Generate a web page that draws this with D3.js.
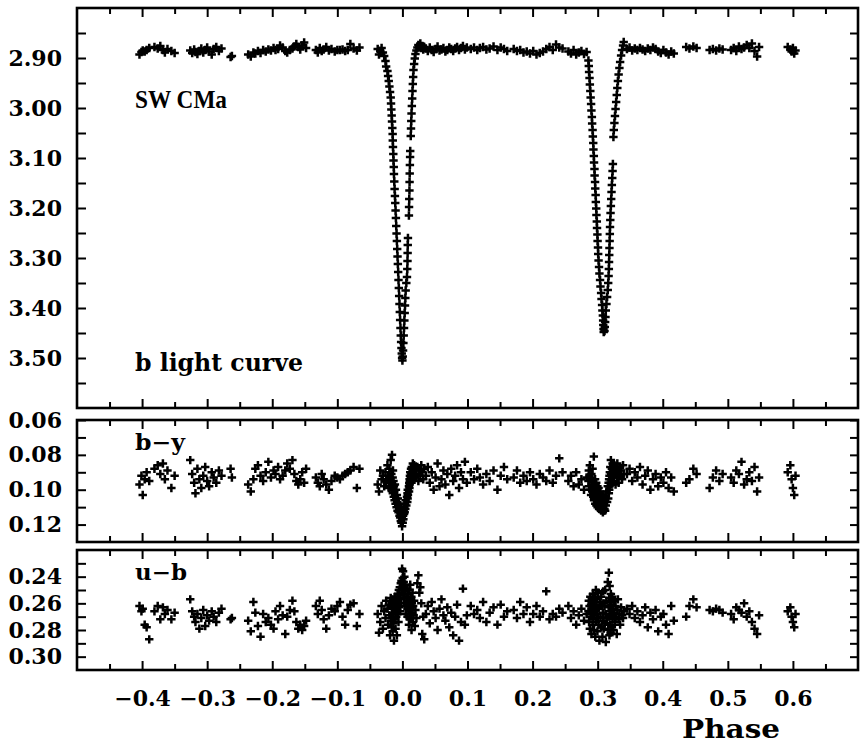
<!DOCTYPE html>
<html><head><meta charset="utf-8">
<script src="https://cdn.jsdelivr.net/npm/d3@7"></script>
<style>body{margin:0;background:#fff}svg{display:block}</style>
</head><body><svg id="c" width="863" height="743"></svg>
<script>
// ---- data ----
const phase = [
-0.404,-0.401,-0.399,-0.396,-0.393,-0.389,-0.381,-0.376,-0.372,-0.368,-0.365,-0.361,-0.355,-0.350,
-0.326,-0.323,-0.320,-0.318,-0.315,-0.312,-0.309,-0.306,-0.303,-0.300,-0.297,-0.293,-0.290,-0.286,-0.282,-0.278,
-0.264,-0.262,
-0.237,-0.233,-0.229,-0.226,-0.222,-0.218,-0.214,-0.210,-0.206,-0.202,-0.198,-0.195,-0.191,-0.188,-0.184,-0.180,-0.177,-0.173,-0.169,-0.166,-0.163,-0.160,-0.157,-0.154,-0.151,-0.148,
-0.133,-0.130,-0.127,-0.124,-0.121,-0.117,-0.113,-0.109,-0.104,-0.100,-0.096,-0.092,-0.088,-0.084,-0.080,-0.075,-0.070,-0.066,
-0.038,-0.036,-0.034,-0.032,-0.030,-0.028,-0.026,-0.025,-0.023,-0.022,-0.021,-0.020,-0.019,-0.018,-0.0175,-0.017,-0.0165,-0.016,-0.0155,-0.015,-0.0148,-0.0145,-0.014,-0.0137,-0.0133,-0.013,-0.0125,-0.012,-0.0115,-0.011,-0.0105,-0.010,-0.0095,-0.009,-0.0085,-0.008,-0.0075,-0.007,-0.0065,-0.006,-0.0055,-0.005,-0.0045,-0.004,-0.0035,-0.003,-0.0025,-0.002,-0.0015,-0.001,-0.0005,0.000,
0.0005,0.001,0.0015,0.002,0.0025,0.003,0.0035,0.004,0.0045,0.005,0.006,0.007,0.0075,0.0078,0.008,0.0082,0.0085,0.0100,0.0102,0.0105,0.0108,0.0110,0.0112,0.0115,0.0118,0.0120,0.0128,0.0132,0.0136,0.0140,0.0145,0.0150,0.0155,0.0160,0.0165,0.0170,0.0180,0.0190,0.0200,0.0215,0.0230,0.0245,0.0260,0.0275,0.0290,0.0305,0.0320,0.0335,
0.036,0.039,0.042,0.045,0.048,0.051,0.054,0.057,0.060,0.063,0.066,0.069,0.072,0.075,0.078,0.081,0.084,0.087,0.090,0.093,0.096,0.099,
0.105,0.110,0.115,0.119,0.124,0.129,0.134,0.140,0.146,0.151,0.156,0.161,
0.171,0.176,0.181,0.186,0.191,0.196,0.201,0.206,0.211,0.216,0.221,0.226,0.231,0.236,0.241,0.246,
0.255,0.259,0.263,0.267,0.271,0.275,0.279,0.283,
0.2858,0.2864,0.2868,0.2875,0.2880,0.2887,0.2892,0.2899,0.2904,0.2911,0.2915,0.2922,0.2926,0.2932,0.2935,0.2941,0.2944,0.2951,0.2953,0.2960,0.2963,0.2969,0.2972,0.2978,0.2981,0.2987,0.2990,0.2996,0.2999,0.3005,0.3008,0.3014,0.3021,0.3027,0.3037,0.3043,0.3053,0.3059,0.3068,0.3073,0.3080,0.3084,0.3086,0.3090,0.3093,
0.3105,0.3110,0.3115,0.3120,0.3125,0.3135,0.3145,0.3155,0.3162,0.3168,0.3172,0.3175,0.3178,0.3181,0.3184,0.3187,0.3190,0.3194,0.3198,0.3203,0.3208,0.3213,0.3218,0.3224,0.3229,0.3234,0.3242,0.3248,0.3257,0.3266,0.3275,0.3284,0.3293,0.3302,0.3311,0.3322,0.3334,0.3345,0.3360,0.3375,0.3390,0.3400,
0.345,0.349,0.353,0.357,0.361,0.365,0.369,0.373,0.377,0.381,0.385,0.389,0.393,0.397,0.401,0.405,0.409,0.413,0.417,
0.436,0.441,0.447,0.452,
0.472,0.477,0.482,0.487,0.492,
0.505,0.509,0.513,0.517,0.521,0.525,0.529,0.533,0.537,0.541,0.545,0.548,
0.592,0.596,0.598,0.600,0.602,0.604
];
const bMag = [
2.893,2.888,2.885,2.887,2.884,2.880,2.878,2.881,2.876,2.884,2.889,2.882,2.886,2.890,
2.885,2.890,2.883,2.888,2.892,2.886,2.881,2.889,2.884,2.879,2.887,2.893,2.882,2.878,2.886,2.881,
2.898,2.896,
2.893,2.897,2.889,2.891,2.886,2.890,2.884,2.887,2.883,2.885,2.880,2.884,2.882,2.875,2.879,2.886,2.889,2.884,2.881,2.877,2.872,2.878,2.883,2.875,2.869,2.880,
2.884,2.889,2.880,2.886,2.883,2.878,2.885,2.882,2.887,2.884,2.884,2.883,2.886,2.884,2.872,2.881,2.885,2.879,
2.882,2.893,2.886,2.880,2.889,2.896,2.906,2.917,2.926,2.936,2.946,2.957,2.968,2.979,2.991,3.003,3.015,3.027,3.040,3.052,3.065,3.078,3.092,3.105,3.118,3.132,3.147,3.162,3.176,3.190,3.205,3.220,3.236,3.251,3.266,3.282,3.297,3.312,3.328,3.344,3.360,3.376,3.392,3.408,3.424,3.440,3.455,3.468,3.480,3.491,3.500,3.505,
3.497,3.485,3.470,3.455,3.440,3.425,3.410,3.395,3.380,3.365,3.350,3.338,3.322,3.306,3.290,3.274,3.260,3.215,3.198,3.182,3.165,3.148,3.131,3.114,3.098,3.086,3.056,3.041,3.026,3.011,2.996,2.981,2.966,2.952,2.938,2.924,2.912,2.901,2.892,2.885,2.879,2.874,2.877,2.871,2.880,2.876,2.883,2.878,
2.881,2.886,2.879,2.884,2.888,2.882,2.877,2.885,2.883,2.880,2.887,2.884,2.879,2.882,2.886,2.881,2.878,2.884,2.880,2.876,2.883,2.879,
2.882,2.879,2.884,2.880,2.878,2.883,2.881,2.877,2.884,2.879,2.882,2.886,
2.882,2.886,2.884,2.889,2.887,2.891,2.886,2.893,2.890,2.887,2.882,2.878,2.884,2.873,2.879,2.881,
2.887,2.891,2.884,2.893,2.889,2.886,2.892,2.888,
2.905,2.916,2.928,2.940,2.953,2.966,2.979,2.992,3.005,3.018,3.031,3.044,3.057,3.070,3.083,3.096,3.109,3.122,3.135,3.148,3.161,3.174,3.188,3.201,3.214,3.227,3.240,3.253,3.266,3.279,3.292,3.305,3.318,3.331,3.344,3.357,3.370,3.382,3.394,3.405,3.415,3.425,3.434,3.442,3.448,
3.446,3.438,3.428,3.418,3.405,3.392,3.378,3.364,3.350,3.336,3.322,3.308,3.294,3.280,3.266,3.252,3.238,3.224,3.210,3.196,3.182,3.168,3.154,3.140,3.126,3.112,3.058,3.044,3.030,3.016,3.002,2.988,2.974,2.960,2.946,2.933,2.920,2.908,2.895,2.884,2.875,2.868,
2.882,2.879,2.885,2.881,2.884,2.880,2.883,2.886,2.881,2.884,2.879,2.882,2.887,2.890,2.884,2.889,2.893,2.887,2.891,
2.878,2.881,2.877,2.880,
2.884,2.882,2.885,2.881,2.883,
2.884,2.880,2.886,2.877,2.882,2.879,2.874,2.880,2.871,2.886,2.897,2.878,
2.878,2.883,2.887,2.880,2.891,2.885
];
const byColor = [
0.097,0.092,0.103,0.094,0.090,0.095,0.088,0.086,0.091,0.085,0.094,0.089,0.099,0.092,
0.083,0.091,0.096,0.102,0.088,0.094,0.099,0.092,0.087,0.095,0.098,0.090,0.093,0.096,0.089,0.092,
0.088,0.093,
0.097,0.101,0.094,0.088,0.086,0.092,0.095,0.090,0.084,0.093,0.089,0.091,0.087,0.094,0.092,0.089,0.085,0.088,0.083,0.091,0.095,0.097,0.094,0.090,0.096,0.088,
0.093,0.096,0.098,0.091,0.094,0.097,0.100,0.095,0.092,0.093,0.094,0.092,0.091,0.090,0.089,0.087,0.099,0.088,
0.097,0.101,0.089,0.094,0.092,0.098,0.090,0.095,0.086,0.092,0.099,0.088,0.094,0.083,0.096,0.091,0.100,0.080,0.097,0.093,0.102,0.089,0.099,0.095,0.104,0.098,0.101,0.106,0.097,0.103,0.108,0.100,0.105,0.110,0.103,0.107,0.112,0.105,0.109,0.113,0.108,0.111,0.115,0.110,0.116,0.113,0.118,0.114,0.119,0.116,0.121,0.117,
0.119,0.115,0.117,0.112,0.114,0.110,0.113,0.108,0.111,0.106,0.109,0.104,0.107,0.102,0.105,0.100,0.103,0.098,0.101,0.096,0.099,0.094,0.097,0.092,0.095,0.090,0.093,0.088,0.091,0.096,0.087,0.092,0.089,0.085,0.094,0.090,0.086,0.093,0.088,0.091,0.087,0.095,0.089,0.092,0.086,0.090,0.094,0.088,
0.092,0.087,0.096,0.090,0.100,0.093,0.085,0.098,0.094,0.089,0.097,0.091,0.103,0.088,0.095,0.092,0.086,0.099,0.090,0.094,0.084,0.096,
0.090,0.094,0.088,0.093,0.097,0.091,0.095,0.089,0.100,0.092,0.087,0.094,
0.093,0.089,0.096,0.092,0.095,0.090,0.094,0.097,0.091,0.093,0.095,0.089,0.096,0.092,0.082,0.090,
0.095,0.092,0.098,0.090,0.097,0.094,0.100,0.093,
0.095,0.089,0.098,0.092,0.086,0.100,0.094,0.103,0.091,0.097,0.101,0.088,0.095,0.104,0.099,0.081,0.106,0.097,0.101,0.094,0.108,0.099,0.103,0.096,0.109,0.100,0.105,0.098,0.110,0.102,0.107,0.099,0.111,0.104,0.108,0.101,0.112,0.105,0.109,0.103,0.113,0.106,0.110,0.104,0.112,
0.111,0.106,0.112,0.104,0.109,0.101,0.107,0.098,0.105,0.096,0.102,0.094,0.100,0.092,0.098,0.090,0.096,0.087,0.094,0.083,0.091,0.097,0.088,0.093,0.085,0.092,0.089,0.095,0.086,0.091,0.097,0.088,0.093,0.085,0.090,0.096,0.087,0.092,0.089,0.094,0.086,0.091,
0.091,0.088,0.095,0.090,0.093,0.087,0.097,0.092,0.089,0.100,0.094,0.091,0.098,0.093,0.096,0.090,0.099,0.093,0.101,
0.096,0.094,0.088,0.091,
0.099,0.093,0.089,0.095,0.091,
0.093,0.096,0.089,0.091,0.084,0.097,0.094,0.090,0.095,0.087,0.101,0.093,
0.090,0.086,0.094,0.099,0.103,0.092
];
const ubColor = [
0.262,0.266,0.264,0.276,0.278,0.287,0.266,0.262,0.272,0.263,0.268,0.265,0.272,0.267,
0.257,0.266,0.270,0.274,0.268,0.279,0.271,0.265,0.277,0.269,0.273,0.266,0.270,0.274,0.267,0.264,
0.272,0.271,
0.273,0.281,0.259,0.267,0.277,0.285,0.268,0.274,0.271,0.276,0.279,0.266,0.272,0.262,0.269,0.283,0.270,0.265,0.258,0.266,0.274,0.279,0.276,0.280,0.277,0.273,
0.262,0.268,0.258,0.265,0.272,0.279,0.269,0.264,0.266,0.262,0.259,0.270,0.276,0.265,0.261,0.260,0.277,0.268,
0.268,0.282,0.274,0.262,0.279,0.266,0.271,0.258,0.264,0.276,0.261,0.269,0.284,0.256,0.273,0.262,0.278,0.259,0.267,0.281,0.264,0.270,0.257,0.275,0.263,0.288,0.260,0.272,0.266,0.255,0.279,0.262,0.270,0.258,0.284,0.265,0.253,0.268,0.259,0.274,0.250,0.263,0.257,0.248,0.266,0.254,0.245,0.260,0.243,0.252,0.234,0.248,
0.241,0.236,0.249,0.244,0.256,0.240,0.262,0.251,0.246,0.268,0.255,0.261,0.249,0.270,0.258,0.264,0.253,0.276,0.259,0.266,0.250,0.272,0.261,0.257,0.268,0.246,0.263,0.271,0.255,0.280,0.260,0.267,0.252,0.274,0.262,0.269,0.258,0.277,0.265,0.271,0.245,0.239,0.252,0.248,0.260,0.283,0.270,0.287,
0.268,0.262,0.275,0.259,0.266,0.271,0.280,0.264,0.257,0.269,0.273,0.263,0.278,0.267,0.284,0.270,0.261,0.288,0.274,0.249,0.276,0.269,
0.262,0.268,0.265,0.271,0.259,0.274,0.267,0.263,0.276,0.261,0.270,0.266,
0.265,0.271,0.259,0.268,0.263,0.274,0.268,0.262,0.270,0.266,0.251,0.272,0.268,0.270,0.264,0.267,
0.262,0.271,0.266,0.276,0.269,0.264,0.273,0.268,
0.266,0.258,0.274,0.262,0.279,0.255,0.270,0.261,0.283,0.259,0.267,0.276,0.253,0.264,0.272,0.258,0.280,0.262,0.269,0.256,0.285,0.266,0.250,0.274,0.261,0.268,0.257,0.281,0.264,0.271,0.252,0.276,0.263,0.288,0.259,0.270,0.255,0.278,0.262,0.285,0.267,0.251,0.273,0.260,0.279,
0.262,0.275,0.250,0.268,0.289,0.258,0.271,0.244,0.280,0.263,0.237,0.270,0.256,0.284,0.247,0.266,0.276,0.259,0.282,0.253,0.269,0.261,0.278,0.255,0.272,0.264,0.280,0.258,0.267,0.274,0.262,0.270,0.283,0.265,0.257,0.272,0.268,0.276,0.263,0.269,0.271,0.266,
0.264,0.268,0.262,0.271,0.266,0.274,0.269,0.263,0.278,0.267,0.272,0.265,0.281,0.270,0.268,0.276,0.283,0.262,0.273,
0.270,0.262,0.257,0.263,
0.265,0.266,0.264,0.265,0.267,
0.268,0.272,0.263,0.265,0.267,0.260,0.270,0.266,0.274,0.279,0.283,0.269,
0.266,0.263,0.270,0.274,0.278,0.268
];
// tick values
const xTicks = [-0.4,-0.3,-0.2,-0.1,0.0,0.1,0.2,0.3,0.4,0.5,0.6];
const xMinor = [-0.45,-0.35,-0.25,-0.15,-0.05,0.05,0.15,0.25,0.35,0.45,0.55,0.65];
const bTicks = [2.90,3.00,3.10,3.20,3.30,3.40,3.50];
const bMinor = [2.85,2.95,3.05,3.15,3.25,3.35,3.45,3.55];
const byTicks = [0.06,0.08,0.10,0.12];
const byMinor = [0.07,0.09,0.11];
const ubTicks = [0.24,0.26,0.28,0.30];
const ubMinor = [0.23,0.25,0.27,0.29];
const panelLabels = ["b light curve","b\u2212y","u\u2212b"];

// ---- drawing ----
const svg = d3.select("#c");
const L = 77, R = 858;
const x = d3.scaleLinear().domain([-0.5, 0.7]).range([L, R]);
const n = Math.min(phase.length, bMag.length, byColor.length, ubColor.length);
const FONT = "'DejaVu Serif', serif";

const panels = [
  {vals: bMag, domain: [2.80, 3.60], y0: 8, y1: 408, major: bTicks, minor: bMinor},
  {vals: byColor, domain: [0.06, 0.13], y0: 420, y1: 542, major: byTicks, minor: byMinor},
  {vals: ubColor, domain: [0.22, 0.31], y0: 550, y1: 670, major: ubTicks, minor: ubMinor}
];

function styleAxis(g) {
  g.select(".domain").remove();
  g.selectAll(".tick line").attr("stroke", "#000").attr("stroke-width", 2);
  g.selectAll(".tick text").attr("fill", "#000")
    .style("font-family", FONT).style("font-weight", "bold").style("font-size", "22px");
}

panels.forEach((p, pi) => {
  const y = d3.scaleLinear().domain(p.domain).range([p.y0, p.y1]);
  const g = svg.append("g");

  // points
  g.append("g").selectAll("path").data(d3.range(n)).join("path")
    .attr("transform", i => `translate(${x(phase[i])},${y(p.vals[i])})`)
    .attr("d", "M-4.2,0H4.2M0,-4.2V4.2")
    .attr("stroke", "#000").attr("stroke-width", 2.5).attr("fill", "none");

  // left axis (labels + majors)
  g.append("g").attr("transform", `translate(${L},0)`)
    .call(d3.axisLeft(y).tickValues(p.major).tickSize(-9).tickPadding(15).tickFormat(d3.format(".2f")))
    .call(styleAxis);
  g.append("g").attr("transform", `translate(${L},0)`)
    .call(d3.axisLeft(y).tickValues(p.minor).tickSize(-9).tickFormat(""))
    .call(styleAxis);
  // right axis
  g.append("g").attr("transform", `translate(${R},0)`)
    .call(d3.axisRight(y).tickValues(p.major.concat(p.minor)).tickSize(-8).tickFormat(""))
    .call(styleAxis);
  // top & bottom x ticks
  g.append("g").attr("transform", `translate(0,${p.y0})`)
    .call(d3.axisTop(x).tickValues(xTicks).tickSize(-9).tickFormat(""))
    .call(styleAxis);
  g.append("g").attr("transform", `translate(0,${p.y0})`)
    .call(d3.axisTop(x).tickValues(xMinor).tickSize(-6).tickFormat(""))
    .call(styleAxis);
  g.append("g").attr("transform", `translate(0,${p.y1})`)
    .call(d3.axisBottom(x).tickValues(xTicks).tickSize(-9).tickPadding(20)
      .tickFormat(pi === 2 ? d3.format(".1f") : ""))
    .call(styleAxis);
  g.append("g").attr("transform", `translate(0,${p.y1})`)
    .call(d3.axisBottom(x).tickValues(xMinor).tickSize(-6).tickFormat(""))
    .call(styleAxis);

  // frame
  g.append("rect").attr("x", L).attr("y", p.y0).attr("width", R - L).attr("height", p.y1 - p.y0)
    .attr("fill", "none").attr("stroke", "#000").attr("stroke-width", 2.6);
});

// panel texts
svg.append("text").attr("x", 135).attr("y", 108).text("SW CMa")
  .attr("textLength", 92).attr("lengthAdjust", "spacingAndGlyphs")
  .style("font-family", "'Liberation Serif', 'Times New Roman', serif").style("font-weight", "bold").style("font-size", "26px");
svg.append("text").attr("x", 135).attr("y", 371).text(panelLabels[0])
  .attr("textLength", 168).attr("lengthAdjust", "spacingAndGlyphs")
  .style("font-family", FONT).style("font-weight", "bold").style("font-size", "24px");
svg.append("text").attr("x", 135).attr("y", 450).text(panelLabels[1])
  .attr("textLength", 50).attr("lengthAdjust", "spacingAndGlyphs")
  .style("font-family", FONT).style("font-weight", "bold").style("font-size", "22px");
svg.append("text").attr("x", 135).attr("y", 580).text(panelLabels[2])
  .attr("textLength", 52).attr("lengthAdjust", "spacingAndGlyphs")
  .style("font-family", FONT).style("font-weight", "bold").style("font-size", "22px");
svg.append("text").attr("x", 731).attr("y", 738).attr("text-anchor", "middle").text("Phase")
  .attr("textLength", 98).attr("lengthAdjust", "spacingAndGlyphs")
  .style("font-family", FONT).style("font-weight", "bold").style("font-size", "26px");
</script>
</body></html>
